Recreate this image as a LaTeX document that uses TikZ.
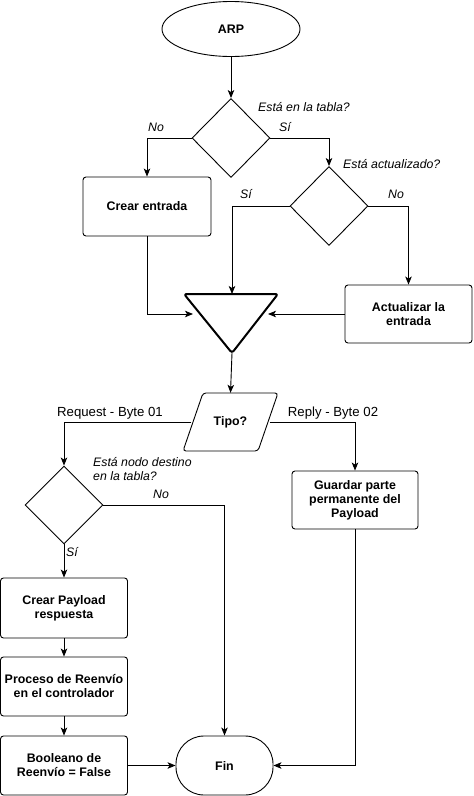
\documentclass[tikz,border=0pt]{standalone}
\usepackage{fontspec}
\setmainfont{Liberation Sans}
\usetikzlibrary{shapes.geometric,arrows.meta,calc}
\begin{document}
\begin{tikzpicture}[x=1pt,y=-1pt,
  every node/.style={font=\fontsize{12.3}{14}\selectfont, inner sep=0pt},
  bold/.style={font=\fontsize{12.4}{14}\selectfont\bfseries},
  box/.style={draw, line width=0.9pt, rounded corners=3pt, minimum width=127pt, minimum height=58pt, align=center, bold},
  dec/.style={draw, line width=0.9pt, diamond, minimum width=78pt, minimum height=79pt},
  lbl/.style={font=\fontsize{12.3}{14}\selectfont\itshape},
  plain/.style={font=\fontsize{13.2}{15}\selectfont},
  arr/.style={-{Stealth[length=8pt,width=6.5pt,inset=2pt]}, line width=0.9pt}
]
\useasboundingbox (0,0) rectangle (474,796);

% shapes
\node[draw, line width=0.9pt, ellipse, minimum width=138pt, minimum height=55pt, bold] (arp) at (231,29) {ARP};
\node[dec] (d1) at (231,138) {};
\node[box, minimum width=128pt, minimum height=59pt] (crear) at (147,206.5) {Crear entrada};
\node[dec] (d2) at (329,206) {};
\node[box] (act) at (408.5,314) {Actualizar la\\entrada};

\coordinate (ttl) at (184,294);
\coordinate (ttr) at (278,294);
\coordinate (tbot) at (232,353);
\coordinate (ttop) at (232,294);
\coordinate (tin1) at (193,314);
\coordinate (tin2) at (268,314);
\draw[line width=2pt, rounded corners=2.5pt, line join=round] (ttl) -- (ttr) -- (tbot) -- cycle;

\node[minimum width=78pt, minimum height=58pt, bold] (tipo) at (230.5,422) {Tipo?};
\draw[line width=0.9pt, rounded corners=3pt] (203,393) -- (278,393) -- (258,451) -- (183,451) -- cycle;

\node[dec, minimum height=78pt] (d3) at (64,505) {};
\node[box, minimum width=126pt] (guard) at (355,500) {Guardar parte\\permanente del\\Payload};
\node[box, minimum height=60pt] (cp) at (64,608) {Crear Payload\\respuesta};
\node[box, minimum height=59pt] (pr) at (64,686.5) {Proceso de Reenvío\\en el controlador};
\node[box, minimum height=59pt] (bo) at (64,765.5) {Booleano de\\Reenvío = False};
\node[draw, line width=0.9pt, rectangle, rounded corners=28pt, minimum width=97pt, minimum height=59pt, bold] (fin) at (224.5,765.5) {Fin};

% connectors
\draw[arr] (arp.south) -- (d1.north);
\draw[arr] (d1.west) -| (crear.north);
\draw[arr] (d1.east) -| (d2.north);
\draw[arr] (d2.west) -| (ttop);
\draw[arr] (d2.east) -| (act.north);
\draw[arr] (crear.south) |- (tin1);
\draw[arr] (act.west) -- (tin2);
\draw[arr] (tbot) -- (tipo.north);
\draw[arr] (tipo.west) -| (d3.north);
\draw[arr] (tipo.east) -| (guard.north);
\draw[arr] (d3.east) -| (fin.north);
\draw[arr] (guard.south) |- (fin.east);
\draw[arr] (d3.south) -- (cp.north);
\draw[arr] (cp.south) -- (pr.north);
\draw[arr] (pr.south) -- (bo.north);
\draw[arr] (bo.east) -- (fin.west);

% labels
\node[lbl, anchor=base west] (l1) at (258,111.5) {Está en la tabla?};
\node[lbl, anchor=base] (l2) at (156,131.5) {No};
\node[lbl, anchor=base] (l3) at (285,131.5) {Sí};
\node[lbl, anchor=base west] (l4) at (343,168) {Está actualizado?};
\node[lbl, anchor=base] (l5) at (246,198) {Sí};
\node[lbl, anchor=base] (l6) at (396,198) {No};
\node[plain, anchor=base] (l7) at (110,416) {Request - Byte 01};
\node[plain, anchor=base] (l8) at (333,416) {Reply - Byte 02};
\node[lbl, anchor=west, align=left] (l9) at (93,469) {Está nodo destino\\en la tabla?};
\node[lbl, anchor=base] (l10) at (161,498) {No};
\node[lbl, anchor=base] (l11) at (72,556) {Sí};
\end{tikzpicture}
\end{document}
